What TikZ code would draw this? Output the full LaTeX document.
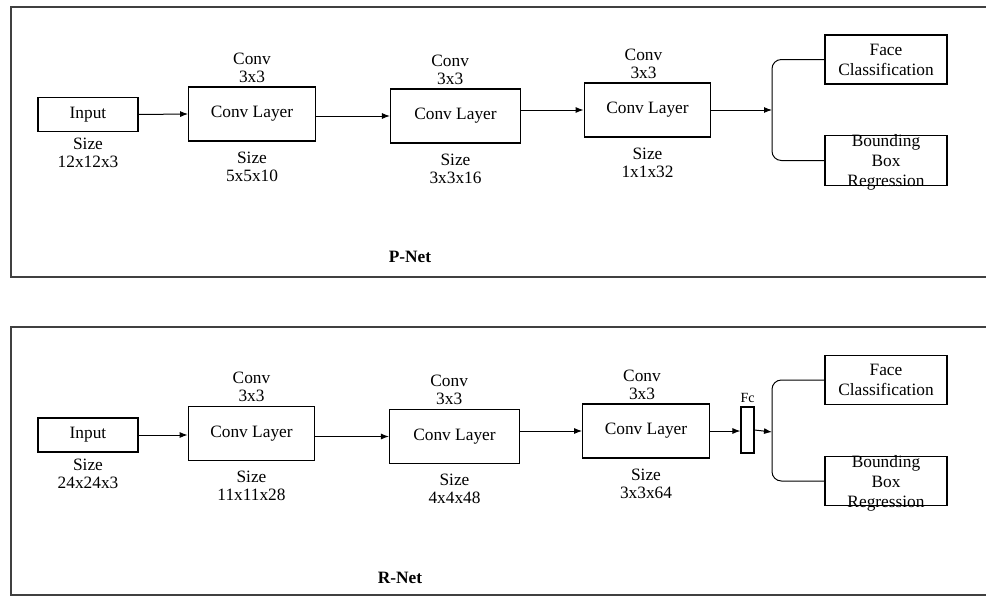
\documentclass[tikz,border=0pt]{standalone}
\usepackage{fontspec}
\setmainfont{Liberation Serif}
\usetikzlibrary{arrows.meta,positioning}

\begin{document}
\begin{tikzpicture}[x=0.75pt, y=-0.75pt,
  font=\fontsize{13}{13.5}\selectfont,
  cadre/.style={draw=black!75, line width=1.5pt},
  couche/.style={draw, line width=0.8pt, minimum width=95pt, minimum height=40.5pt, inner sep=0pt},
  entree/.style={couche, minimum width=75pt, minimum height=25.5pt},
  sortie/.style={draw, line width=0.8pt, minimum width=91.5pt, minimum height=36.75pt,
                 align=center, inner xsep=0pt, font=\fontsize{13}{15}\selectfont},
  legende/.style={align=center, inner sep=0pt},
  titre/.style={inner sep=0pt, font=\fontsize{13}{13.5}\selectfont\bfseries},
  fleche/.style={-{Latex[length=6pt,width=4.5pt]}, line width=0.75pt},
  branche/.style={line width=0.75pt, rounded corners=7pt}]

\useasboundingbox (0,0) rectangle (986,596);

% Cadres
\draw[cadre] (992,7) -- (10.5,7) -- (10.5,277) -- (992,277);
\draw[cadre] (992,327) -- (10.5,327) -- (10.5,594.5) -- (992,594.5);

% P-Net
\node[entree] (inP) at (88,114.5) {Input};
\node[couche] (c1P) at (252,114) {Conv Layer};
\node[couche, minimum width=97.5pt] (c2P) at (455.5,116) {Conv Layer};
\node[couche] (c3P) at (647.5,110) {Conv Layer};
\node[sortie] (faceP) at (886,59.5) {Face\\Classification};
\node[sortie, inner ysep=-4pt] (bbrP) at (886,160.5) {\rule{0pt}{12pt}Bounding\\Box\\Regression};
\coordinate (jP) at (772,110);

\node[legende, below=4.5pt of inP] (tinP) {Size\\12x12x3};
\node[legende, above=3pt of c1P] (kc1P) {Conv\\3x3};
\node[legende, below=7.5pt of c1P] (tc1P) {Size\\5x5x10};
\node[legende, above=3pt of c2P, xshift=-4pt] (kc2P) {Conv\\3x3};
\node[legende, below=7.5pt of c2P] (tc2P) {Size\\3x3x16};
\node[legende, above=3pt of c3P, xshift=-3pt] (kc3P) {Conv\\3x3};
\node[legende, below=7.5pt of c3P] (tc3P) {Size\\1x1x32};
\node[titre] (nomP) at (410,257) {P-Net};

\draw[fleche] (inP.east) -- (c1P.west);
\draw[fleche] (c1P.east |- c2P.west) -- (c2P.west);
\draw[fleche] (c2P.east |- c3P.west) -- (c3P.west);
\draw[fleche] (c3P.east) -- (jP);
\draw[branche] (faceP.west) -| (jP) |- (bbrP.west);

% R-Net
\node[entree] (inR) at (88,435) {Input};
\node[couche] (c1R) at (251.5,433.5) {Conv Layer};
\node[couche, minimum width=97.5pt] (c2R) at (454.5,436.5) {Conv Layer};
\node[couche] (c3R) at (646,431) {Conv Layer};
\node[draw, line width=0.8pt, minimum width=9.75pt, minimum height=34.5pt, inner sep=0pt] (fcR) at (747.5,430) {};
\node[sortie] (faceR) at (886,380) {Face\\Classification};
\node[sortie, inner ysep=-4pt] (bbrR) at (886,481) {\rule{0pt}{12pt}Bounding\\Box\\Regression};
\coordinate (jR) at (772,432);

\node[legende, below=4.5pt of inR] (tinR) {Size\\24x24x3};
\node[legende, above=3pt of c1R] (kc1R) {Conv\\3x3};
\node[legende, below=7.5pt of c1R] (tc1R) {Size\\11x11x28};
\node[legende, above=3pt of c2R, xshift=-4pt] (kc2R) {Conv\\3x3};
\node[legende, below=7.5pt of c2R] (tc2R) {Size\\4x4x48};
\node[legende, above=3pt of c3R, xshift=-3pt] (kc3R) {Conv\\3x3};
\node[legende, below=7.5pt of c3R] (tc3R) {Size\\3x3x64};
\node[legende, above=3pt of fcR, font=\fontsize{10.5}{12}\selectfont] (kfcR) {Fc};
\node[titre] (nomR) at (400,578) {R-Net};

\draw[fleche] (inR.east) -- (c1R.west |- inR.east);
\draw[fleche] (c1R.east |- c2R.west) -- (c2R.west);
\draw[fleche] (c2R.east |- c3R.west) -- (c3R.west);
\draw[fleche] (c3R.east) -- (c3R.east -| fcR.west);
\draw[fleche] (fcR.east) -- (jR);
\draw[branche] (faceR.west) -| (jR) |- (bbrR.west);

\end{tikzpicture}
\end{document}
